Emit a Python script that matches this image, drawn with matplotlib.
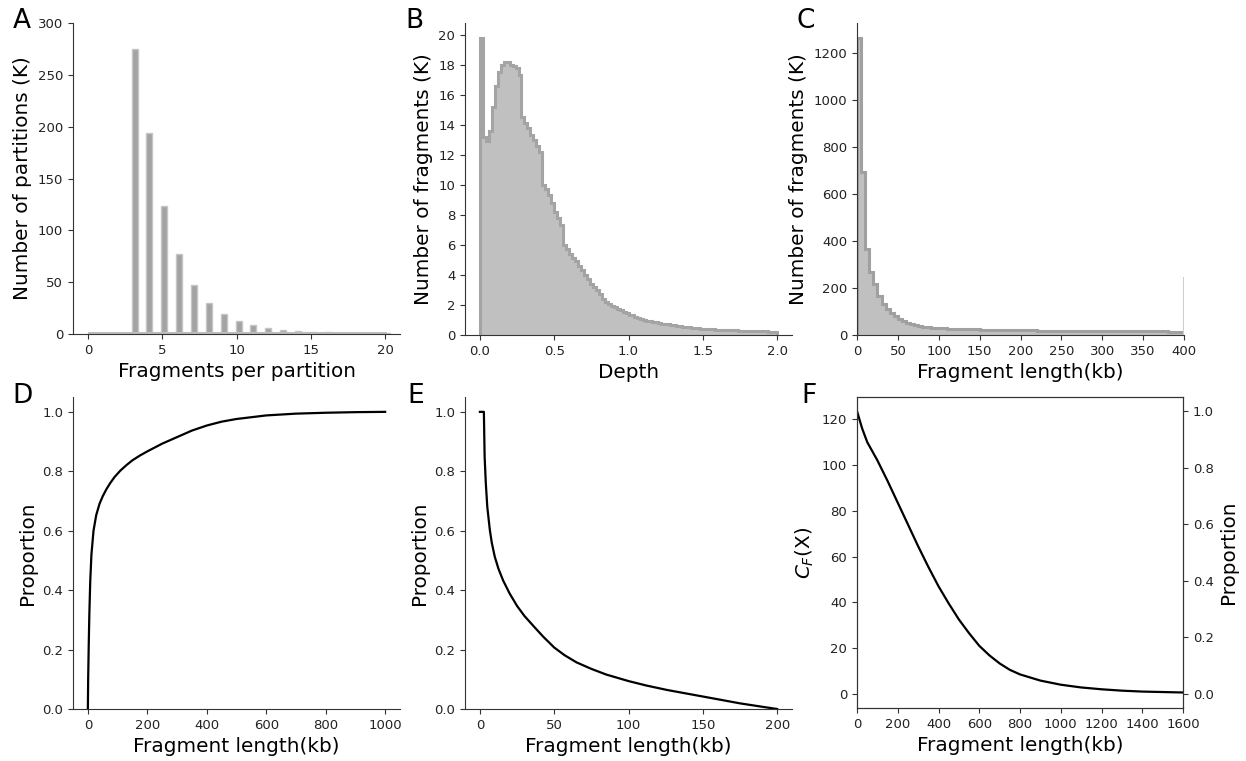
import numpy as np
import matplotlib
matplotlib.use("Agg")
import matplotlib.pyplot as plt

# A: partitions (K) per number of fragments
frag_per_part = list(range(0, 21))
partitions_k = [0, 0, 0, 275, 194, 123.5, 77, 47.5, 29.8, 19.2, 12.6, 8.2, 5.6,
                4.0, 3.0, 2.2, 1.7, 1.4, 1.2, 1.0, 0.9]

# B: depth histogram, bins of 0.02
depth_edges = np.round(np.arange(0, 2.0001, 0.02), 2)
depth_counts_k = [
    19.8, 13.2, 12.9, 13.6, 15.2, 16.6, 17.5, 18.0, 18.2, 18.2,
    18.0, 17.9, 17.8, 17.3, 14.5, 14.1, 13.8, 13.3, 13.0, 12.6,
    12.2, 10.0, 9.7, 9.3, 8.8, 8.2, 7.8, 7.3, 6.0, 5.7,
    5.4, 5.1, 4.9, 4.6, 4.3, 4.0, 3.7, 3.4, 3.2, 3.0,
    2.7, 2.4, 2.2, 2.05, 1.95, 1.85, 1.75, 1.65, 1.55, 1.45,
    1.35, 1.3, 1.22, 1.15, 1.08, 1.0, 0.96, 0.92, 0.88, 0.84,
    0.8, 0.76, 0.73, 0.7, 0.67, 0.64, 0.61, 0.58, 0.55, 0.52,
    0.5, 0.48, 0.46, 0.44, 0.42, 0.4, 0.39, 0.38, 0.37, 0.36,
    0.35, 0.34, 0.33, 0.32, 0.31, 0.3, 0.3, 0.29, 0.29, 0.28,
    0.27, 0.27, 0.26, 0.25, 0.25, 0.24, 0.24, 0.23, 0.23, 0.22]

# C: fragment length histogram, bins of 5 kb, plus overflow at 400
length_edges = np.arange(0, 401, 5)
length_counts_k = [
    1265, 695, 365, 270, 215, 165, 130, 110, 95, 80,
    68, 58, 50, 45, 41, 38, 35, 33, 31, 30,
    29, 28, 27, 26.5, 26, 25.5, 25, 24.5, 24, 23.5,
    23, 22.5, 22, 21.5, 21, 20.8, 20.6, 20.4, 20.2, 20,
    19.8, 19.6, 19.4, 19.2, 19, 18.8, 18.6, 18.4, 18.2, 18,
    17.8, 17.6, 17.4, 17.2, 17, 16.9, 16.8, 16.7, 16.6, 16.5,
    16.4, 16.3, 16.2, 16.1, 16, 15.9, 15.8, 15.7, 15.6, 15.5,
    15.4, 15.3, 15.2, 15.1, 15, 14.9, 14.8, 14.7, 14.6, 14.5]
overflow_k = 245

# D: cumulative proportion vs fragment length
d_len = [0, 1, 3, 5, 8, 12, 19, 28, 39, 50, 62, 75, 90, 110, 130, 150, 175, 200,
         250, 300, 350, 400, 450, 500, 600, 700, 800, 900, 1000]
d_prop = [0, 0.1, 0.22, 0.32, 0.43, 0.52, 0.6, 0.652, 0.69, 0.716, 0.739, 0.76,
          0.781, 0.803, 0.821, 0.837, 0.853, 0.867, 0.893, 0.915, 0.937, 0.954,
          0.967, 0.976, 0.988, 0.994, 0.997, 0.999, 1.0]

# E: proportion vs fragment length
e_len = [0, 2.7, 3.2, 4.0, 5.0, 6.7, 8, 10, 12.5, 15.7, 20, 25, 30, 37, 42.7,
         50, 57, 65, 75, 85, 100, 112, 126, 138, 150, 162, 175, 188, 200]
e_prop = [1.0, 1.0, 0.85, 0.76, 0.68, 0.603, 0.56, 0.513, 0.472, 0.432, 0.389,
          0.347, 0.313, 0.274, 0.243, 0.207, 0.181, 0.157, 0.135, 0.116, 0.094,
          0.079, 0.064, 0.053, 0.042, 0.031, 0.019, 0.009, 0.0]

# F: C_F(X) vs fragment length
f_len = [0, 25, 50, 75, 100, 150, 200, 250, 300, 350, 400, 450, 500, 550, 600,
         650, 700, 750, 800, 900, 1000, 1100, 1200, 1300, 1400, 1500, 1600]
f_cf = [123.5, 116, 110, 106, 102, 93, 83.5, 74, 64.5, 55.5, 47, 39.5, 32.5,
        26.5, 21, 16.8, 13.3, 10.5, 8.5, 5.8, 4.0, 2.8, 2.0, 1.4, 1.0, 0.8, 0.6]

plt.rcParams['font.family'] = 'DejaVu Sans'
plt.rcParams['xtick.labelsize'] = 9.5
plt.rcParams['ytick.labelsize'] = 9.5
plt.rcParams['axes.labelsize'] = 14.4
plt.rcParams['axes.edgecolor'] = '#333333'
plt.rcParams['xtick.color'] = '#333333'
plt.rcParams['ytick.color'] = '#333333'
plt.rcParams['xtick.labelcolor'] = '#222222'
plt.rcParams['ytick.labelcolor'] = '#222222'

W, H = 1246, 761
fig = plt.figure(figsize=(W / 100, H / 100), dpi=100)


def add_ax(left, top, right, bottom):
    return fig.add_axes([left / W, 1 - bottom / H, (right - left) / W, (bottom - top) / H])


axA = add_ax(73, 23, 400, 334)
axB = add_ax(465, 23, 792, 335)
axC = add_ax(857, 23, 1184, 335)
axD = add_ax(73, 397, 400, 709)
axE = add_ax(465, 397, 792, 709)
axF = add_ax(857, 397, 1183, 708)

for ax in [axA, axB, axC, axD, axE]:
    ax.spines['top'].set_visible(False)
    ax.spines['right'].set_visible(False)

# A
axA.hlines(0.8, 0, 20.1, color='#bdbdbd', lw=1.5)
axA.bar(np.array(frag_per_part) - 0.06, partitions_k, width=0.4, align='edge',
        color='#a3a3a3', edgecolor='#c6c6c6', lw=1)
axA.set_xlim(-1, 21)
axA.set_ylim(0, 300)
axA.set_xticks([0, 5, 10, 15, 20])
axA.set_yticks([0, 50, 100, 150, 200, 250, 300])
axA.set_xlabel('Fragments per partition')
axA.set_ylabel('Number of partitions (K)')

# B
axB.stairs(depth_counts_k, depth_edges, fill=True, color='#c0c0c0')
axB.stairs(depth_counts_k, depth_edges, baseline=0, color='#a4a4a4', lw=2.2)
axB.set_xlim(-0.1, 2.1)
axB.set_ylim(0, 20.8)
axB.set_xticks([0.0, 0.5, 1.0, 1.5, 2.0])
axB.set_yticks(range(0, 21, 2))
axB.set_xlabel('Depth')
axB.set_ylabel('Number of fragments (K)')

# C
axC.stairs(length_counts_k, length_edges, fill=True, color='#c0c0c0')
axC.stairs(length_counts_k, length_edges, baseline=0, color='#a0a0a0', lw=2.2)
axC.vlines(400, 0, overflow_k, color='#cfcfcf', lw=1.5)
axC.set_xlim(0, 400)
axC.set_ylim(0, 1328)
axC.set_xticks(range(0, 401, 50))
axC.set_yticks(range(0, 1201, 200))
axC.set_xlabel('Fragment length(kb)')
axC.set_ylabel('Number of fragments (K)')

# D
axD.plot(d_len, d_prop, color='black', lw=1.6)
axD.set_xlim(-50, 1050)
axD.set_ylim(0, 1.05)
axD.set_xticks(range(0, 1001, 200))
axD.set_yticks([0.0, 0.2, 0.4, 0.6, 0.8, 1.0])
axD.set_xlabel('Fragment length(kb)')
axD.set_ylabel('Proportion')

# E
axE.plot(e_len, e_prop, color='black', lw=1.6)
axE.set_xlim(-10, 210)
axE.set_ylim(0, 1.05)
axE.set_xticks(range(0, 201, 50))
axE.set_yticks([0.0, 0.2, 0.4, 0.6, 0.8, 1.0])
axE.set_xlabel('Fragment length(kb)')
axE.set_ylabel('Proportion')

# F
axF.plot(f_len, f_cf, color='black', lw=1.6)
axF.set_xlim(0, 1600)
f_lo, f_hi = -0.05 * f_cf[0], 1.05 * f_cf[0]
axF.set_ylim(f_lo, f_hi)
axF.set_xticks(range(0, 1601, 200))
axF.set_yticks(range(0, 121, 20))
axF.set_xlabel('Fragment length(kb)')
axF.set_ylabel('$C_F$(X)')
axF2 = axF.twinx()
axF2.set_ylim(f_lo / f_cf[0], f_hi / f_cf[0])
axF2.set_yticks([0.0, 0.2, 0.4, 0.6, 0.8, 1.0])
axF2.set_ylabel('Proportion')

# panel letters
for letter, x, y in [('A', 13, 28), ('B', 405, 28), ('C', 797, 28),
                     ('D', 12, 403), ('E', 407, 403), ('F', 801, 403)]:
    fig.text(x / W, 1 - y / H, letter, fontsize=19, va='baseline', ha='left')

fig.savefig('out.png', dpi=100)
